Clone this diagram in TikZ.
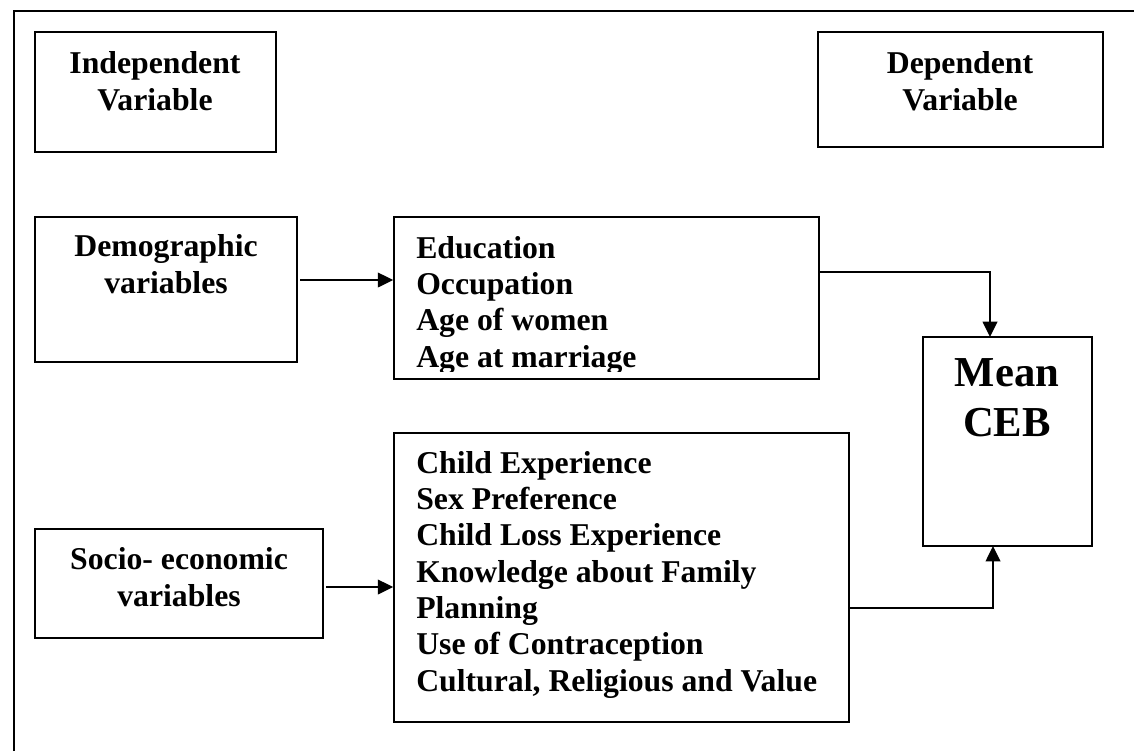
\documentclass[tikz,border=0pt]{standalone}
\usepackage{fontspec}
\setmainfont{Liberation Serif}
\usetikzlibrary{fit,arrows.meta}
\tikzset{
  px/.style={x=0.75pt,y=-0.75pt},
  box/.style={draw,line width=1.2pt,inner sep=0pt,rectangle},
  lbl/.style={inner sep=0pt,font=\fontsize{23.8}{27.6}\selectfont\bfseries},
  lst/.style={inner sep=0pt,font=\fontsize{23.8}{27.2}\selectfont\bfseries},
  big/.style={inner sep=0pt,font=\fontsize{32}{36.8}\selectfont\bfseries},
  arr/.style={line width=1.2pt,-{Triangle[length=11.5pt,width=11pt]}}
}
\begin{document}
\begin{tikzpicture}[px]
\useasboundingbox (0,0) rectangle (1134,751);
% outer frame
\draw[line width=2.2pt] (14,751) -- (14,11) -- (1134,11);
% boxes
\node[box,fit={(35,32)(276,152)}] (ind) {};
\node[box,fit={(818,32)(1103,147)}] (dep) {};
\node[box,fit={(35,217)(297,362)}] (demo) {};
\node[box,fit={(394,217)(819,379)}] (edu) {};
\node[box,fit={(923,337)(1092,546)}] (mean) {};
\node[box,fit={(35,529)(323,638)}] (socio) {};
\node[box,fit={(394,433)(849,722)}] (child) {};
% texts (anchor = baseline of last line)
\node[lbl,align=center,anchor=base] (indt) at (155,110) {Independent\\Variable};
\node[lbl,align=center,anchor=base] (dept) at (960,110) {Dependent\\Variable};
\node[lbl,align=center,anchor=base] (demot) at (166,293) {Demographic\\variables};
\node[lbl,align=center,anchor=base] (sociot) at (179,606) {Socio- economic\\variables};
\begin{scope}
\clip (394,217) rectangle (819,371);
\node[lst,align=left,anchor=base west] (edut) at (416,367) {Education\\Occupation\\Age of women\\Age at marriage};
\end{scope}
\node[lst,align=left,anchor=base west] (childt) at (416,691) {Child Experience\\Sex Preference\\Child Loss Experience\\Knowledge about Family\\Planning\\Use of Contraception\\Cultural, Religious and Value};
\node[big,align=center,anchor=base] (meant) at (1007,436) {Mean\\CEB};
% connectors
\coordinate (a1) at (300,280);
\draw[arr] (a1) -- (a1 -| edu.west);
\coordinate (a2) at (326,587);
\draw[arr] (a2) -- (a2 -| child.west);
\coordinate (e1) at (820,272);
\coordinate (m1) at (990,337);
\draw[arr] (e1) -| (m1);
\coordinate (c1) at (850,608);
\coordinate (m2) at (993,546);
\draw[arr] (c1) -| (m2);
\end{tikzpicture}
\end{document}
